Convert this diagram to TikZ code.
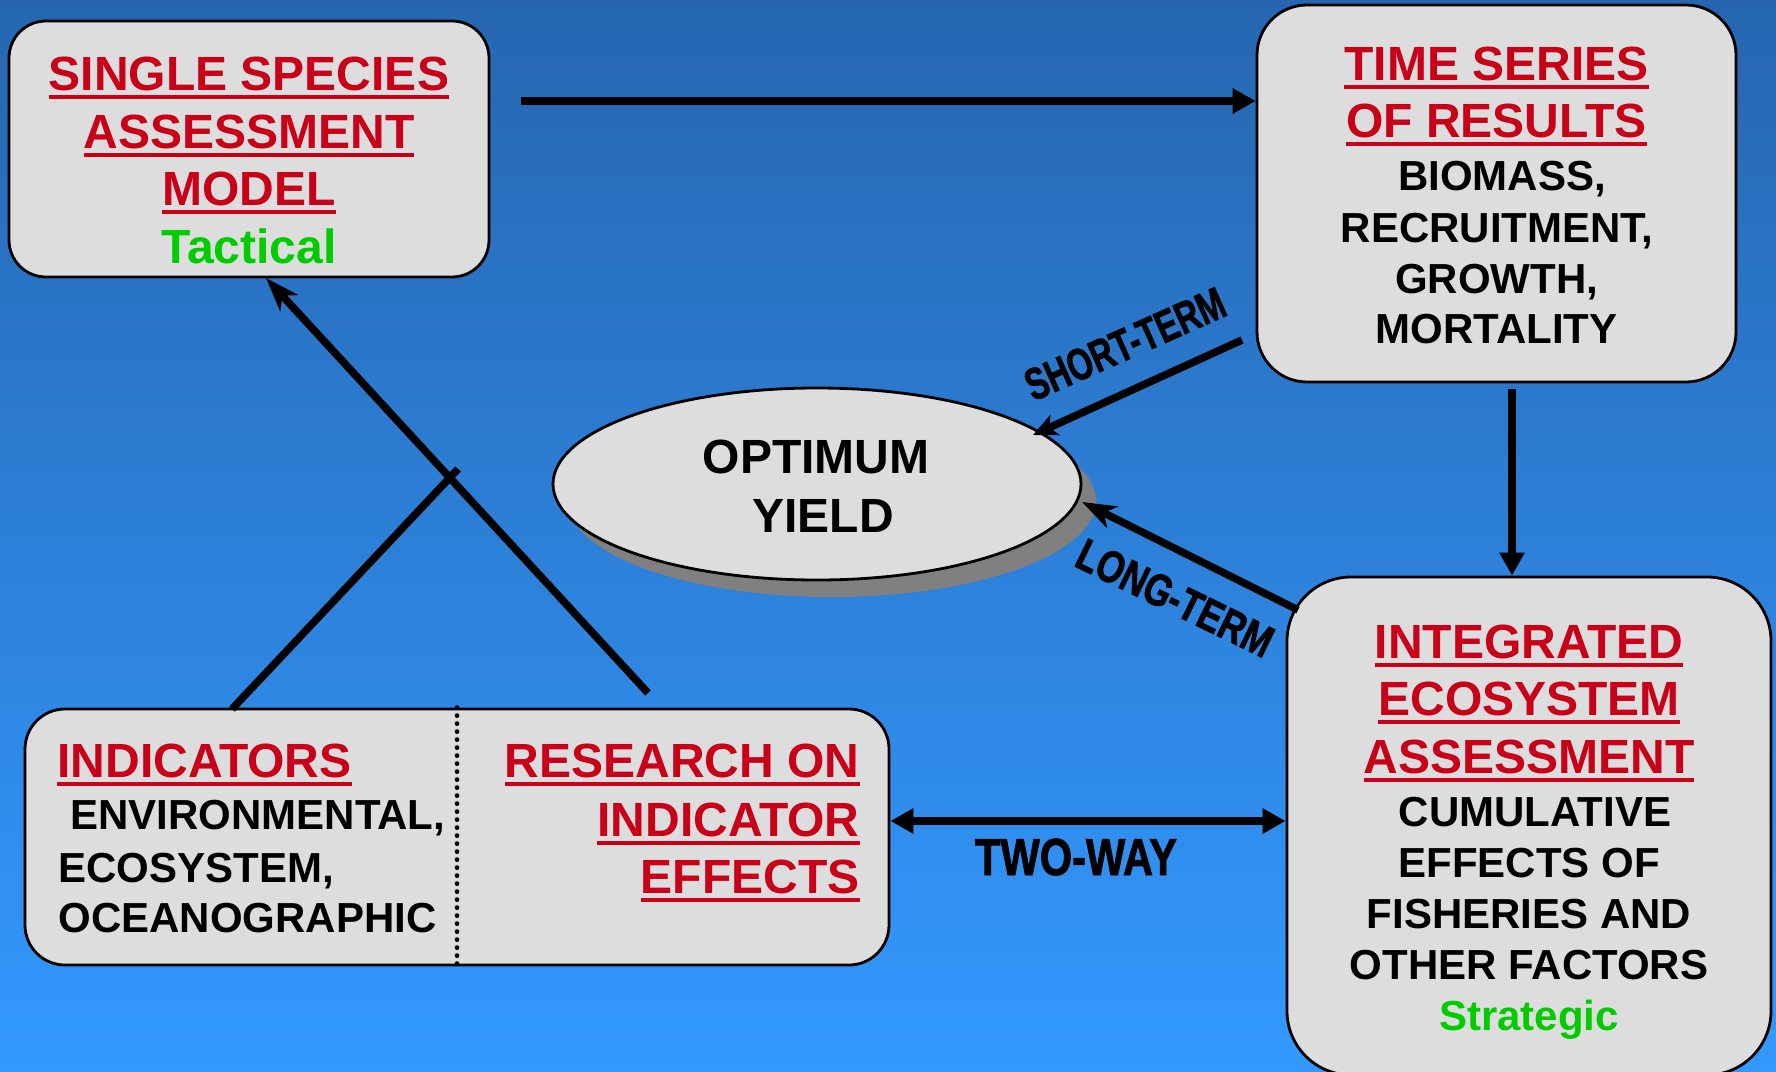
\documentclass[tikz,border=0pt]{standalone}
\usepackage{fontspec}
\setmainfont{Liberation Sans}
\newfontfamily\lblfont{Liberation Sans Bold}[FakeBold=1.8]
\usetikzlibrary{arrows.meta,fit,shapes.geometric}
\definecolor{bgtop}{RGB}{38,102,176}
\definecolor{bgbot}{RGB}{51,153,255}
\definecolor{boxgray}{RGB}{221,221,221}
\definecolor{hdred}{RGB}{200,0,24}
\definecolor{tgreen}{RGB}{0,204,0}
\definecolor{shgray}{RGB}{128,128,128}
\newcommand\myul[1]{\setbox0\hbox{#1}\rlap{\rule[-4.5pt]{\wd0}{2pt}}\box0}
\newcommand\fh{\bfseries\fontsize{24}{28}\selectfont}
\newcommand\fb{\bfseries\fontsize{21}{25}\selectfont}
\begin{document}
\begin{tikzpicture}[x=0.5pt,y=-0.5pt,
  box/.style={draw=black, line width=1.4pt, fill=boxgray, inner sep=0pt},
  hd/.style={anchor=base, inner sep=0pt, text=hdred, font=\fh},
  bt/.style={anchor=base, inner sep=0pt, text=black, font=\fb},
  gt/.style={anchor=base, inner sep=0pt, text=tgreen},
  conn/.style={line width=3.8pt, draw=black},
  tri/.style={conn, -{Triangle[length=11.5pt,width=12pt]}},
  tritwo/.style={conn, {Triangle[length=11.5pt,width=12pt]}-{Triangle[length=11.5pt,width=12pt]}},
  stl/.style={conn, -{Stealth[length=17pt,width=12pt,inset=5pt]}},
  stls/.style={conn, -{Stealth[length=12pt,width=11pt,inset=3pt]}},
  lbl/.style={inner sep=0pt, text=black, font=\lblfont\fontsize{22.5}{22.5}\selectfont},
  dotline/.style={line width=2.4pt, line cap=round, dash pattern=on 0pt off 4pt}
]
\useasboundingbox (0,0) rectangle (1776,1071);
\shade[top color=bgtop, bottom color=bgbot] (0,0) rectangle (1776,1071);

% boxes
\node[box, rounded corners=18.5pt, fit={(9,21) (489,277)}] (b1) {};
\node[box, rounded corners=25pt, fit={(1257,5) (1736,382)}] (b2) {};
\node[box, rounded corners=20pt, fit={(25,709) (889,965)}] (b3) {};
\node[box, rounded corners=32pt, fit={(1287,577) (1771,1075)}] (b4) {};

% ellipse with shadow
\fill[shgray] (832,501) ellipse [x radius=132pt, y radius=48pt];
\node[ellipse, draw=black, line width=1.4pt, fill=boxgray, minimum width=264pt, minimum height=96pt, inner sep=0pt] (yield) at (817,484) {};

% box 1 text
\node[hd] (t1a) at (249,90) {\myul{SINGLE SPECIES}};
\node[hd] (t1b) at (249,148) {\myul{ASSESSMENT}};
\node[hd] (t1c) at (249,205) {\myul{MODEL}};
\node[gt, font=\fh] (t1d) at (249,263) {Tactical};

% box 2 text
\node[hd] (t2a) at (1496.5,80) {\myul{TIME SERIES}};
\node[hd] (t2b) at (1496.5,137) {\myul{OF RESULTS}};
\node[bt] (t2c) at (1502,190) {BIOMASS,};
\node[bt] (t2d) at (1497,242) {RECRUITMENT,};
\node[bt] (t2e) at (1496.5,293) {GROWTH,};
\node[bt] (t2f) at (1496.5,343) {MORTALITY};

% box 3 text
\draw[dotline] (b3.north) -- (b3.south);
\node[hd, anchor=base west] (t3a) at (57,777) {\myul{INDICATORS}};
\node[bt, anchor=base west] (t3b) at (70,829) {ENVIRONMENTAL,};
\node[bt, anchor=base west] (t3c) at (58,882) {ECOSYSTEM,};
\node[bt, anchor=base west] (t3d) at (58,932) {OCEANOGRAPHIC};
\node[hd, anchor=base east] (t3e) at (860,777) {\myul{RESEARCH ON}};
\node[hd, anchor=base east] (t3f) at (860,836) {\myul{INDICATOR}};
\node[hd, anchor=base east] (t3g) at (860,893) {\myul{EFFECTS}};

% box 4 text
\node[hd] (t4a) at (1529,658) {\myul{INTEGRATED}};
\node[hd] (t4b) at (1529,715) {\myul{ECOSYSTEM}};
\node[hd] (t4c) at (1529,773) {\myul{ASSESSMENT}};
\node[bt] (t4d) at (1535,826) {CUMULATIVE};
\node[bt] (t4e) at (1529,877) {EFFECTS OF};
\node[bt] (t4f) at (1529,928) {FISHERIES AND};
\node[bt] (t4g) at (1529,979) {OTHER FACTORS};
\node[gt, font=\fb] (t4h) at (1529,1030) {Strategic};

% ellipse text
\node[bt, font=\fh] (ty1) at (816,473) {OPTIMUM};
\node[bt, font=\fh] (ty2) at (823,532) {YIELD};

% connector coordinates
\coordinate (topstart) at (521,101);
\coordinate (vstart) at (1512,389);
\coordinate (tw) at (1088,821);
\coordinate (ststart) at (1242,340);
\coordinate (stend) at (1033,435);
\coordinate (ltstart) at (1298,610);
\coordinate (ltend) at (1082,502);
\coordinate (lastart) at (232,709);
\coordinate (laend) at (458,469);
\coordinate (lbstart) at (648,693);
\coordinate (lbend) at (266,278);

% connectors
\draw[tri] (topstart) -- (topstart -| b2.west);
\draw[tri] (vstart) -- (vstart |- b4.north);
\draw[tritwo] (tw -| b3.east) -- (tw -| b4.west);
\draw[stls] (ststart) -- (stend);
\draw[stl] (ltstart) -- (ltend);
\draw[conn] (lastart) -- (laend);
\draw[stl] (lbstart) -- (lbend);

% labels
\node[lbl, rotate=24] (lshort) at (1125,344) {\scalebox{0.72}[1]{SHORT-TERM}};
\node[lbl, rotate=-26] (llong) at (1175,598) {\scalebox{0.78}[1]{LONG-TERM}};
\node[anchor=base, inner sep=0pt, font=\lblfont\fontsize{26}{26}\selectfont] (ltwo) at (1076,875) {\scalebox{0.8}[1]{TWO-WAY}};
\end{tikzpicture}
\end{document}
